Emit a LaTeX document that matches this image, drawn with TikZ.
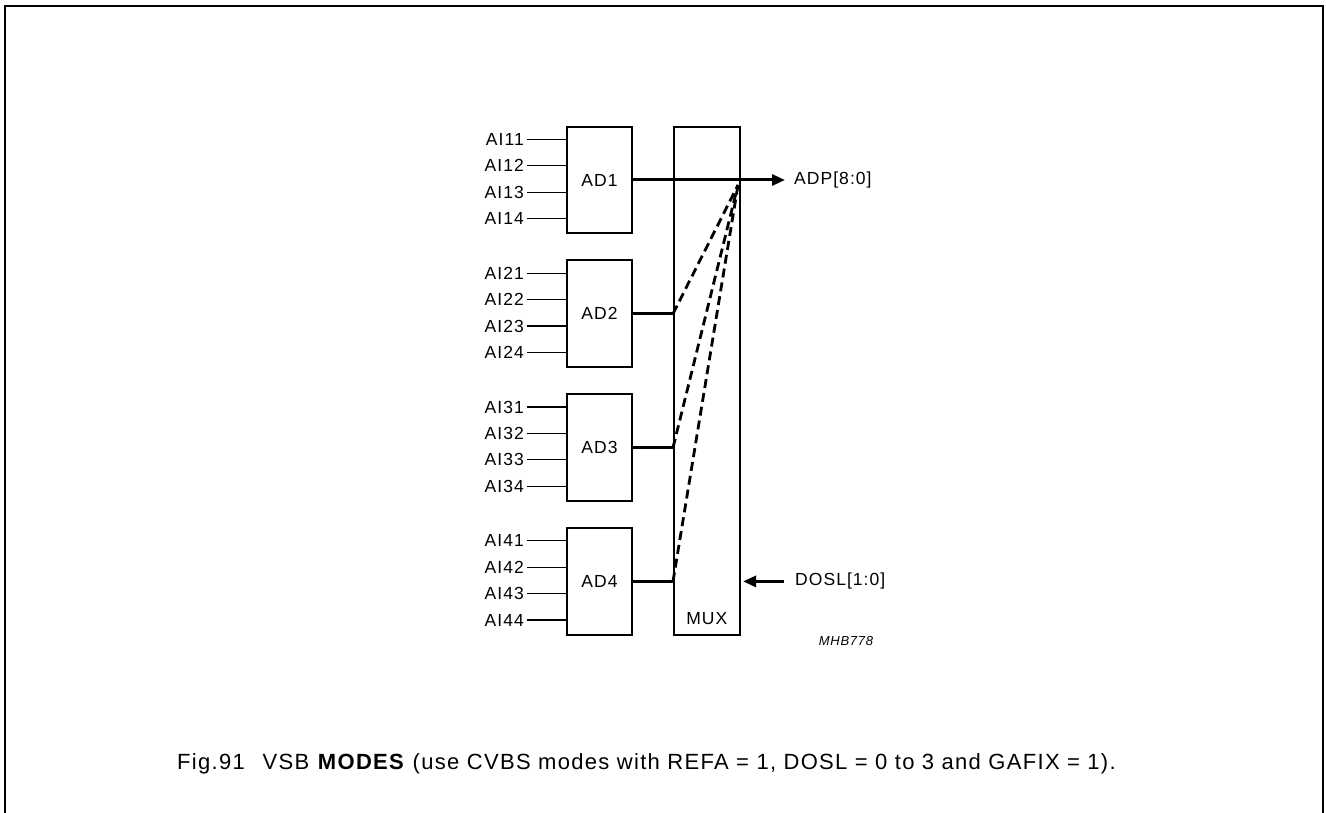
\documentclass[tikz,border=0pt]{standalone}
\usepackage{fontspec}
\setmainfont{Liberation Sans}[LetterSpace=6]
\usetikzlibrary{arrows.meta}

\begin{document}
\begin{tikzpicture}[x=1pt, y=-1pt, every node/.style={font=\fontsize{17.5}{20}\selectfont}, >={Triangle[length=13pt, width=11pt]},
    adbox/.style={draw, line width=2pt, minimum width=65.6pt, minimum height=106.6pt, inner sep=0pt},
    bus/.style={line width=3pt}, sel/.style={line width=2.8pt, dash pattern=on 9pt off 5pt}]
        \useasboundingbox (0,0) rectangle (1326,813);
        \draw[line width=2pt] (4.5,813) -- (4.5,6.5) -- (1322.5,6.5) -- (1322.5,813);
        \node[adbox] (ad1) at (599.5,180) {AD1};
        \node[adbox] (ad2) at (599.5,313.8) {AD2};
        \node[adbox] (ad3) at (599.5,447.6) {AD3};
        \node[adbox] (ad4) at (599.5,581.4) {AD4};
        \node[adbox, minimum height=508.3pt] (mux) at (706.8,380.8) {};
        \node[anchor=base] (muxlabel) at (706.8,624.5) {MUX};
        \foreach \k in {1,...,4}
            \foreach \j in {1,...,4} {
                \pgfmathsetmacro{\yy}{180+133.8*(\k-1)-40.6+26.4*(\j-1)}
                \node[anchor=east, inner xsep=3pt] (ai\k\j) at (527,\yy) {AI\k\j};
                \draw[line width=1.1pt] (ai\k\j.east) -- (ad\k.west |- ai\k\j.east);
            }
        \node[anchor=west, inner xsep=9pt] (adp) at (785,180) {ADP[8:0]};
        \draw[bus, ->] (ad1.east) -- (adp.west);
        \coordinate (selpt) at (738,185);
        \foreach \k in {2,3,4} {
            \coordinate (in\k) at (mux.west |- ad\k.east);
            \draw[bus] (ad\k.east) -- (in\k);
            \draw[sel] (in\k) -- (selpt);
        }
        \node[anchor=west, inner xsep=11pt] (dosl) at (784,581.4) {DOSL[1:0]};
        \draw[bus, <-, shorten <=2.5pt] (mux.east |- dosl.west) -- (dosl.west);
        \node[font=\fontsize{13}{16}\selectfont\itshape] (code) at (846,641.5) {MHB778};
        \node[font=\fontsize{22}{25}\selectfont, anchor=base west, inner sep=0pt] (caption) at (177,769.3) {Fig.91\hspace{0.8em}VSB \textbf{MODES} (use CVBS modes with REFA = 1, DOSL = 0 to 3 and GAFIX = 1).};
    \end{tikzpicture}
\end{document}
